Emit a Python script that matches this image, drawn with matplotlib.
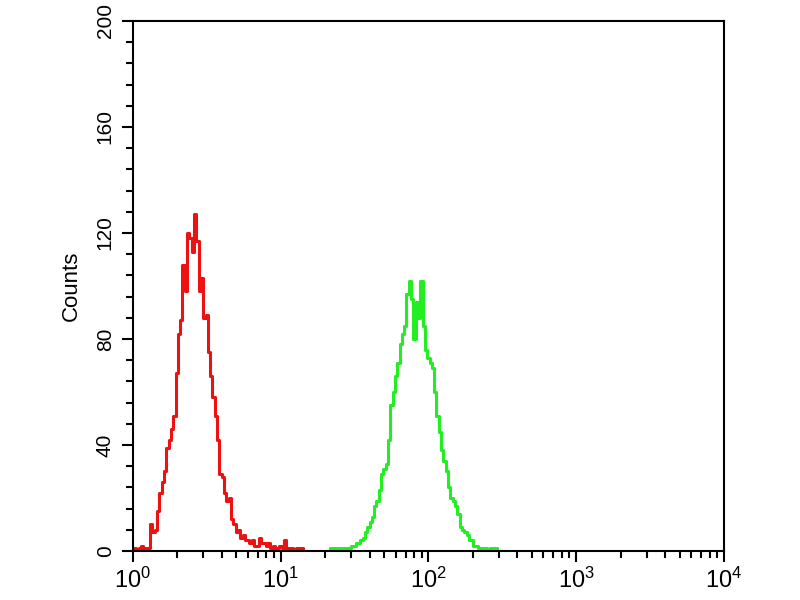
import numpy as np
import matplotlib
matplotlib.use('Agg')
import matplotlib.pyplot as plt
from matplotlib.ticker import FixedLocator, LogLocator, NullFormatter

# Fonte parecida com Arial
fonte = ['Liberation Sans', 'DejaVu Sans']
plt.rcParams['font.family'] = fonte
plt.rcParams['mathtext.fontset'] = 'custom'
plt.rcParams['mathtext.rm'] = fonte[0]
plt.rcParams['mathtext.it'] = fonte[0]

# Histograma de 256 canais, 64 canais por decada
canais_por_decada = 64

# Controle (vermelho): contagens a partir do canal 0
inicio_vermelho = 0
contagem_vermelho = [0, 1, 0, 1, 2, 1, 0, 1, 10, 7,
                     8, 15, 22, 26, 30, 39, 42, 46, 51, 67,
                     82, 87, 108, 98, 120, 118, 113, 127, 117, 98,
                     103, 88, 89, 75, 66, 58, 51, 42, 29, 28,
                     22, 19, 20, 12, 10, 7, 8, 5, 6, 4,
                     4, 3, 4, 2, 2, 5, 3, 3, 2, 3,
                     1, 2, 1, 1, 2, 1, 4, 1, 0, 1,
                     0, 1, 0, 1, 0]

# Amostra (verde): contagens a partir do canal 85
inicio_verde = 85
contagem_verde = [0, 1, 0, 1, 0, 1, 1, 0, 1, 1,
                  2, 2, 3, 3, 4, 5, 7, 9, 11, 13,
                  17, 19, 23, 29, 31, 33, 42, 55, 60, 66,
                  71, 78, 82, 85, 97, 102, 95, 80, 94, 88,
                  102, 85, 76, 73, 71, 69, 60, 51, 45, 38,
                  34, 30, 24, 20, 19, 17, 14, 9, 8, 7,
                  6, 4, 4, 2, 2, 1, 1, 0, 1, 0,
                  1, 0, 1, 0]

y_ticks = [0, 40, 80, 120, 160, 200]
y_labels = ['0', '40', '80', '120', '160', '200']
x_ticks = [1, 10, 100, 1000, 10000]
x_labels = ['$10^{0}$', '$10^{1}$', '$10^{2}$', '$10^{3}$', '$10^{4}$']

# Convertendo canal -> intensidade
ch_v = np.arange(inicio_vermelho, inicio_vermelho + len(contagem_vermelho))
ch_g = np.arange(inicio_verde, inicio_verde + len(contagem_verde))
x_v = 10 ** (ch_v / canais_por_decada)
x_g = 10 ** (ch_g / canais_por_decada)

fig = plt.figure(figsize=(8, 6), dpi=100)
ax = fig.add_axes([0.166, 0.0817, 0.739, 0.8833])

ax.step(x_v, contagem_vermelho, where='mid', color='#ee1111', lw=2.2)
ax.step(x_g, contagem_verde, where='mid', color='#22ee22', lw=2.2)

ax.set_xscale('log')
ax.set_xlim(1, 10000)
ax.set_ylim(0, 200)

ax.xaxis.set_major_locator(FixedLocator(x_ticks))
ax.set_xticklabels(x_labels, fontsize=17)
ax.xaxis.set_minor_locator(LogLocator(base=10, subs=np.arange(2, 10)))
ax.xaxis.set_minor_formatter(NullFormatter())

ax.set_yticks(y_ticks)
ax.set_yticklabels(y_labels, fontsize=15, rotation=90, va='center')
ax.yaxis.set_minor_locator(FixedLocator(np.arange(0, 201, 8)))

ax.tick_params(axis='both', which='major', direction='out', length=8, width=1.5, color='black')
ax.tick_params(axis='both', which='minor', direction='out', length=5, width=1.5, color='black')
ax.tick_params(axis='x', which='major', pad=4)
ax.tick_params(axis='y', which='major', pad=5)

for s in ax.spines.values():
    s.set_linewidth(1.5)

ax.set_ylabel('Counts', fontsize=16, labelpad=10)

fig.savefig('out.png', dpi=100, facecolor='white')
